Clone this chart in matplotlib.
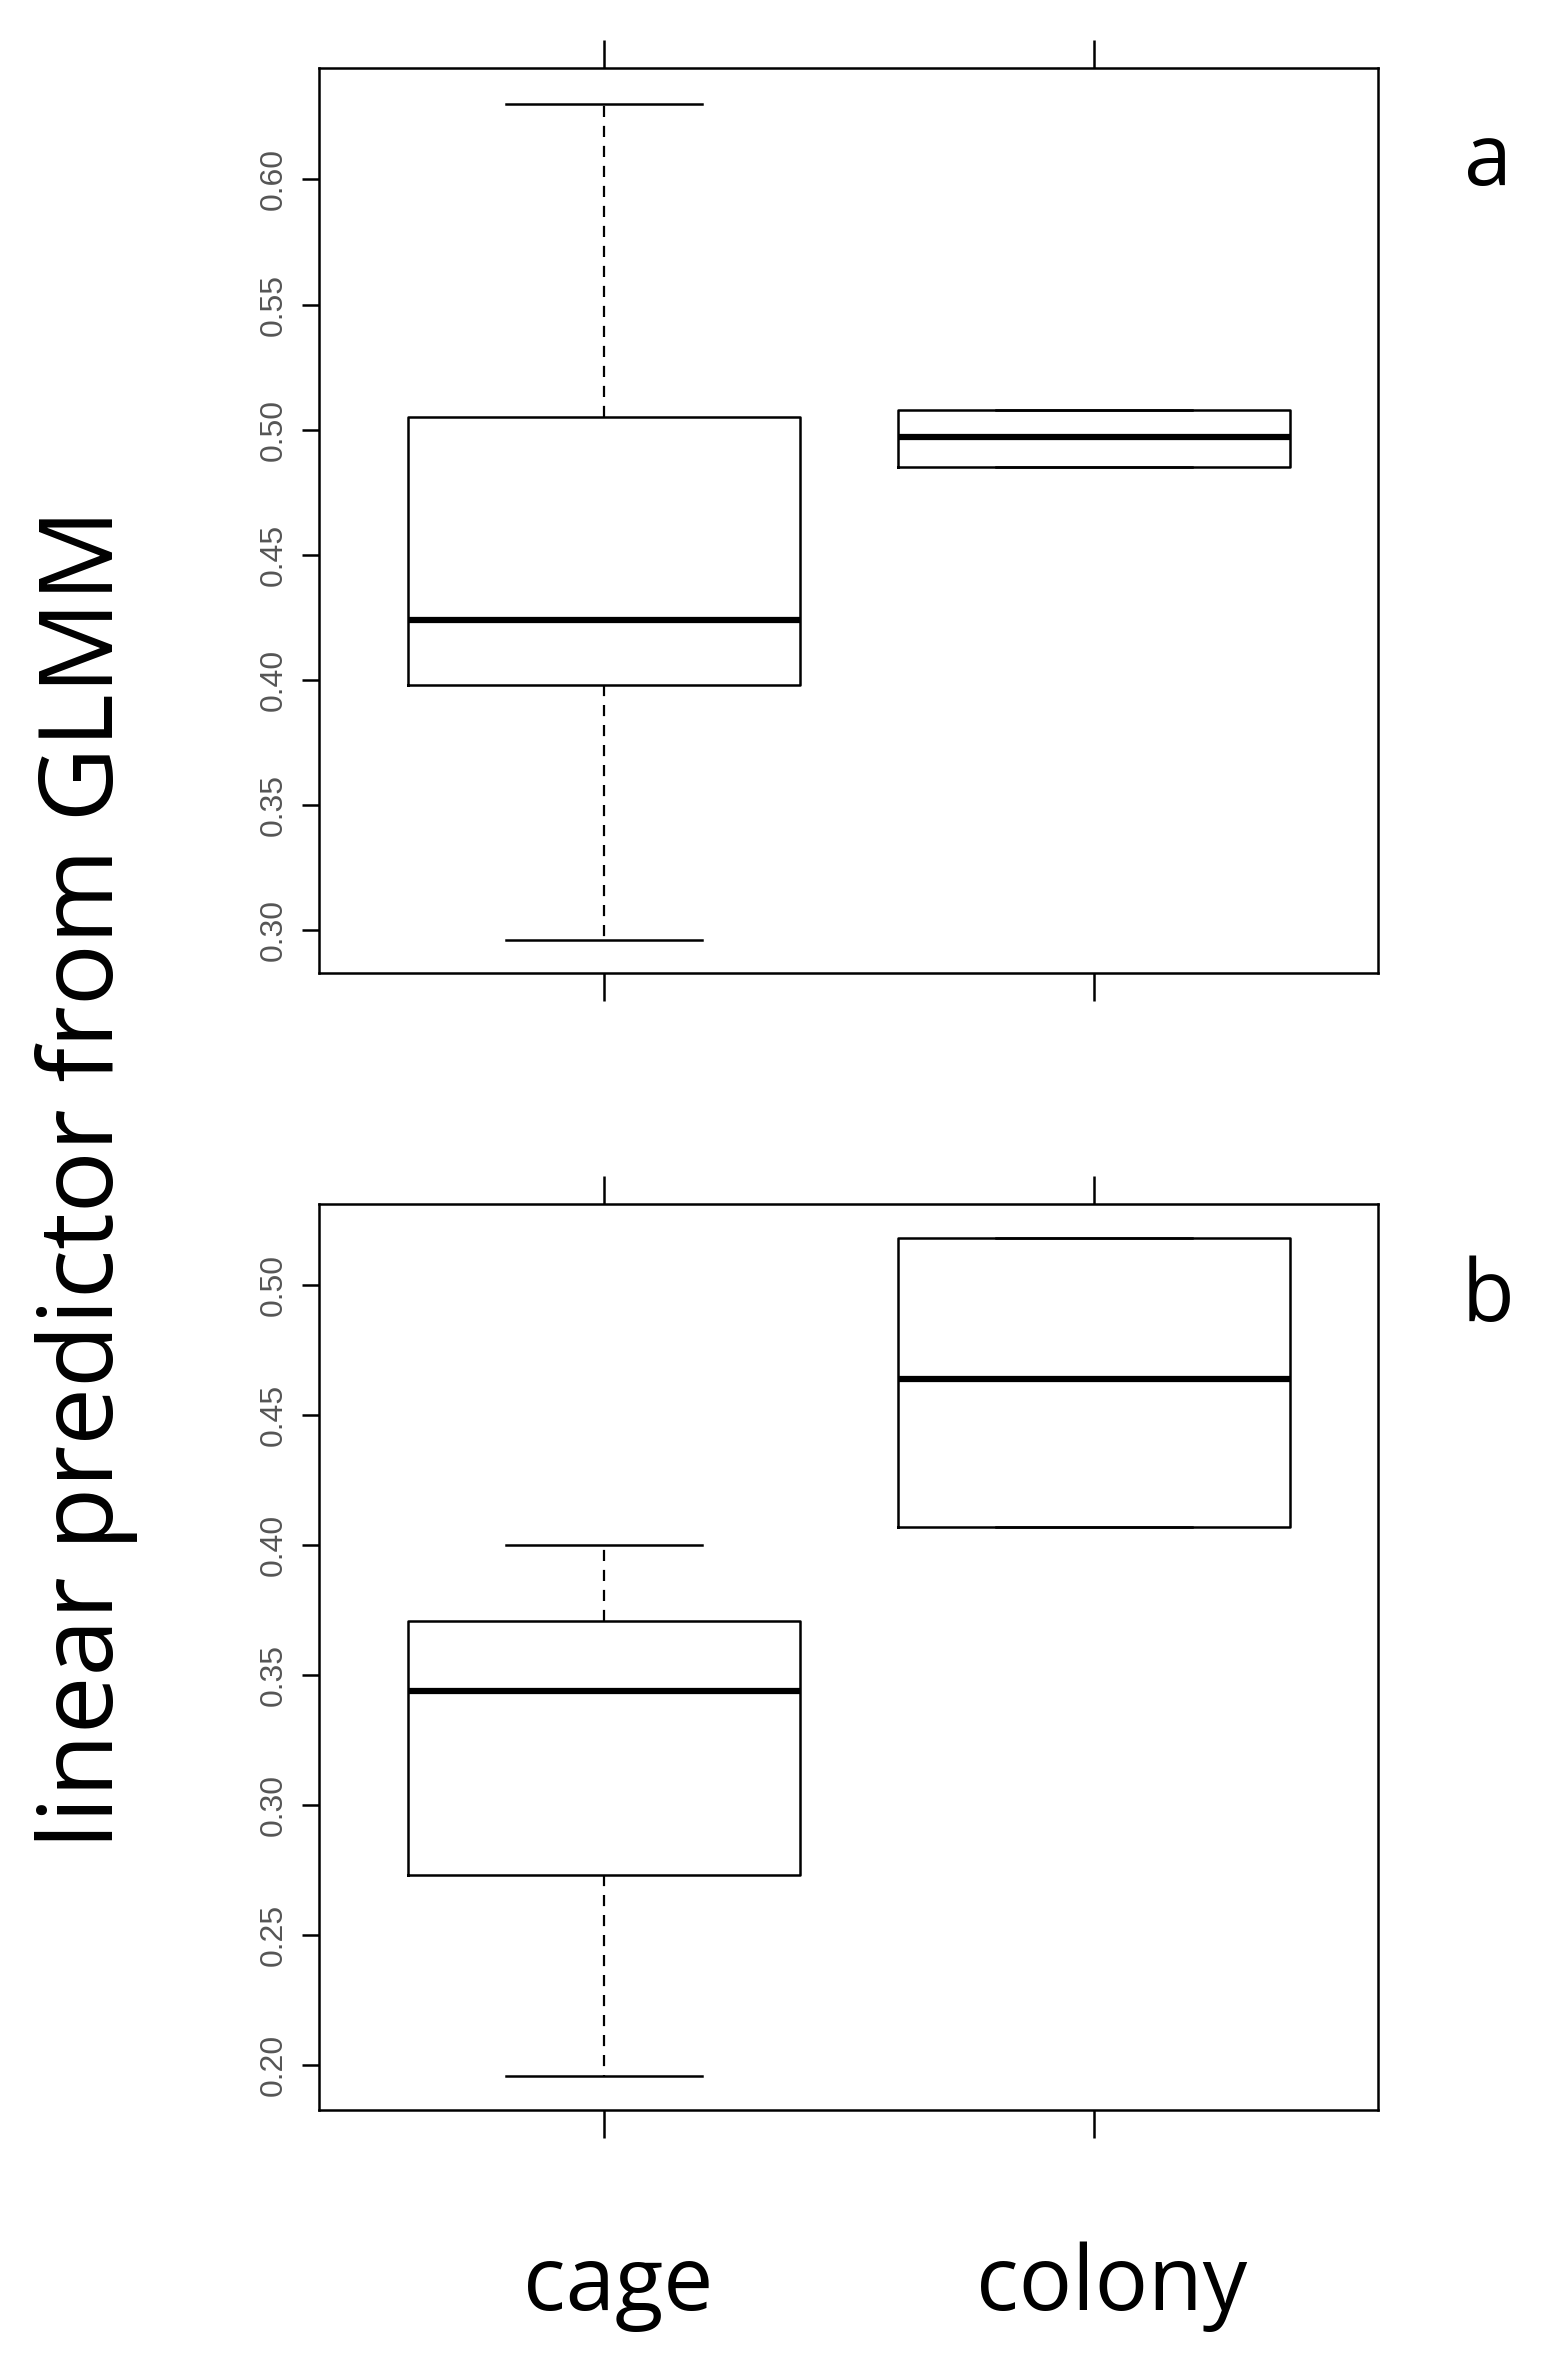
import matplotlib
matplotlib.use("Agg")
import matplotlib.pyplot as plt

groups = ["cage", "colony"]
# panel a: whislo, q1, med, q3, whishi
a_cage = [0.296, 0.398, 0.424, 0.505, 0.630]
a_colony = [0.485, 0.485, 0.497, 0.508, 0.508]
# panel b
b_cage = [0.196, 0.273, 0.344, 0.371, 0.400]
b_colony = [0.407, 0.407, 0.464, 0.518, 0.518]
a_ticks = [0.30, 0.35, 0.40, 0.45, 0.50, 0.55, 0.60]
b_ticks = [0.20, 0.25, 0.30, 0.35, 0.40, 0.45, 0.50]

fig = plt.figure(figsize=(15.66, 23.57), dpi=100)
L, W = 0.204, 0.676
axa = fig.add_axes([L, 0.587, W, 0.384])
axb = fig.add_axes([L, 0.105, W, 0.384])

def mk(v, lab):
    return dict(whislo=v[0], q1=v[1], med=v[2], q3=v[3], whishi=v[4], label=lab, fliers=[])

for ax, data, ticks, ylim, letter in [
        (axa, [a_cage, a_colony], a_ticks, (0.2826, 0.6444), "a"),
        (axb, [b_cage, b_colony], b_ticks, (0.183, 0.531), "b")]:
    stats = [mk(v, g) for v, g in zip(data, groups)]
    ax.bxp(stats, positions=[1, 2], widths=0.8, showfliers=False,
           boxprops=dict(color="black", linewidth=1.8),
           medianprops=dict(color="black", linewidth=4.5),
           whiskerprops=dict(color="black", linewidth=1.6, linestyle=(0, (5, 4))),
           capprops=dict(color="black", linewidth=1.8), capwidths=0.4)
    ax.set_xlim(0.42, 2.58)
    ax.set_ylim(*ylim)
    ax.set_yticks(ticks)
    ax.set_yticklabels([f"{t:.2f}" for t in ticks], rotation=90, va="center",
                       fontsize=23, color="#555555", family="Liberation Sans")
    ax.set_xticks([1, 2])
    ax.set_xticklabels([])
    ax.tick_params(axis="x", top=True, bottom=True, length=20, width=1.8)
    ax.tick_params(axis="y", length=12, width=1.8, pad=10)
    for s in ax.spines.values():
        s.set_linewidth(1.8)
    fig.text(0.95, ax.get_position().y1 - 0.04, letter, fontsize=62,
             family="Open Sans", ha="center", va="center")

fig.text(0.055, 0.5, "linear predictor from GLMM", rotation=90, fontsize=74,
         family="Open Sans", ha="center", va="center")
fig.text(0.395, 0.03, "cage", fontsize=64, family="Open Sans", ha="center", va="center")
fig.text(0.71, 0.03, "colony", fontsize=64, family="Open Sans", ha="center", va="center")

fig.savefig("out.png", dpi=100, facecolor="white")
